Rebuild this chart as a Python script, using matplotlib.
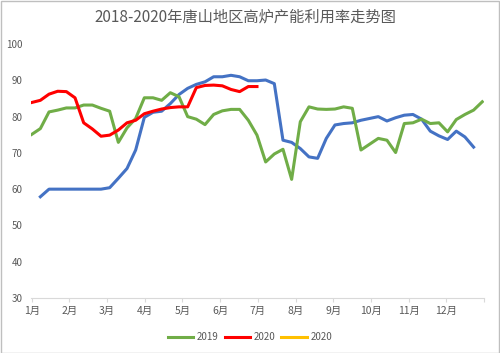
import matplotlib
matplotlib.use("Agg")
import matplotlib.pyplot as plt
from matplotlib.patches import Rectangle

plt.rcParams['font.family'] = ['Noto Sans CJK SC', 'DejaVu Sans']

title = "2018-2020年唐山地区高炉产能利用率走势图"
month_labels = ["1月", "2月", "3月", "4月", "5月", "6月", "7月", "8月", "9月", "10月", "11月", "12月"]

# weekly data (week index within year)
weeks_2018 = list(range(1, 52))
vals_2018 = [57.9, 60.0, 60.0, 60.0, 60.0, 60.0, 60.0, 60.0, 60.4, 63.0,
             65.7, 70.8, 79.8, 81.2, 81.5, 83.6, 86.1, 87.8, 88.9, 89.6,
             91.0, 91.0, 91.4, 91.0, 89.9, 89.9, 90.1, 89.1, 73.5, 72.9,
             71.2, 68.9, 68.5, 74.0, 77.7, 78.1, 78.3, 79.0, 79.5, 80.0,
             78.8, 79.7, 80.4, 80.6, 79.3, 76.0, 74.7, 73.7, 76.0, 74.4,
             71.6]

weeks_2019 = list(range(0, 53))
vals_2019 = [75.1, 76.7, 81.3, 81.8, 82.4, 82.4, 83.2, 83.2, 82.3, 81.5,
             72.9, 76.9, 79.5, 85.2, 85.2, 84.5, 86.6, 85.5, 80.0, 79.3,
             77.8, 80.6, 81.6, 82.0, 82.0, 79.0, 74.9, 67.5, 69.7, 71.0,
             62.7, 78.6, 82.7, 82.1, 82.0, 82.1, 82.7, 82.3, 70.8, 72.4,
             74.0, 73.5, 70.1, 78.1, 78.3, 79.3, 78.1, 78.3, 75.8, 79.2,
             80.6, 81.8, 84.1]

weeks_2020 = list(range(0, 27))
vals_2020 = [83.9, 84.5, 86.2, 87.0, 86.9, 85.2, 78.3, 76.6, 74.6, 74.9,
             76.3, 78.3, 79.0, 80.8, 81.5, 82.1, 82.5, 82.7, 82.7, 88.0,
             88.6, 88.7, 88.5, 87.5, 86.9, 88.3, 88.3]

legend_labels = ["2019", "2020", "2020"]

fig = plt.figure(figsize=(5.0, 3.53), dpi=100)
ax = fig.add_axes([0.062, 0.156, 0.906, 0.719])

wpm = 52.2 / 12.0
ax.plot(weeks_2018, vals_2018, color="#4472C4", lw=2.2, solid_joinstyle="round")
ax.plot(weeks_2019, vals_2019, color="#70AD47", lw=2.2, label=legend_labels[0], solid_joinstyle="round")
ax.plot(weeks_2020, vals_2020, color="#FF0000", lw=2.2, label=legend_labels[1], solid_joinstyle="round")
ax.plot([], [], color="#FFC000", lw=2.2, label=legend_labels[2])

ax.set_xlim(-0.08, 52.2)
ax.set_ylim(30, 100)
ax.set_yticks(range(30, 101, 10))
ax.set_xticks([i * wpm for i in range(13)])
ax.set_xticklabels(month_labels + [""])
ax.tick_params(axis='y', length=0, pad=6, labelsize=7, labelcolor="#595959")
ax.tick_params(axis='x', length=3, color="#D9D9D9", pad=3, labelsize=7.5, labelcolor="#595959")
for s in ["left", "right", "top"]:
    ax.spines[s].set_visible(False)
ax.spines["bottom"].set_color("#D9D9D9")
ax.spines["bottom"].set_linewidth(0.8)

fig.text(0.49, 0.952, title, ha="center", va="center", fontsize=11, color="#595959")

leg = fig.legend(loc="center", bbox_to_anchor=(0.5, 0.045), ncol=3, frameon=False,
                 fontsize=7, handlelength=2.6, columnspacing=0.6, handletextpad=0.4)
for t in leg.get_texts():
    t.set_color("#595959")

fig.patches.append(Rectangle((0.001, 0.001), 0.997, 0.997, transform=fig.transFigure,
                             fill=False, edgecolor="#BFBFBF", lw=1.0))

fig.savefig("out.png", dpi=100)
